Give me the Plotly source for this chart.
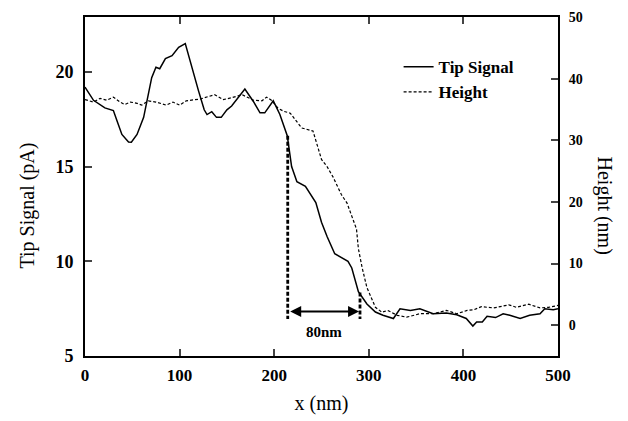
import plotly.graph_objects as go

# ---- data ----
tip_x = [0, 9, 21, 30, 34, 39, 46, 49, 55, 62, 70.5, 75, 79, 85, 92, 99, 106, 113, 120, 126,
         129, 134, 139, 144, 150, 155, 169, 178, 185, 190, 199, 206, 213.8, 218.4, 224, 233, 238,
         244, 250, 256, 264, 278, 282, 289, 298, 307, 315, 326, 333, 344, 354, 368, 382, 393,
         403, 410, 414, 420, 425, 434, 442, 449, 460, 470, 481, 486, 495, 500]
tip_y = [19.2, 18.5, 18.1, 17.96, 17.4, 16.7, 16.3, 16.29, 16.7, 17.6, 19.7, 20.25, 20.17, 20.7,
         20.86, 21.3, 21.5, 20.2, 19.0, 18.0, 17.75, 17.9, 17.6, 17.6, 18.0, 18.2, 19.1, 18.44,
         17.84, 17.84, 18.48, 17.75, 16.63, 15.0, 14.2, 13.96, 13.6, 13.1, 12.06, 11.3, 10.4,
         10.0, 9.65, 8.4, 7.75, 7.32, 7.15, 6.98, 7.49, 7.4, 7.49, 7.23, 7.27, 7.18, 6.98, 6.58,
         6.8, 6.8, 7.1, 7.03, 7.23, 7.15, 6.98, 7.15, 7.23, 7.49, 7.44, 7.49]

h_x = [0, 9, 16, 23, 30, 37, 42, 48, 55, 60, 67, 75, 86, 93, 100, 107, 122, 137, 146, 155,
       166, 178, 187, 192, 197, 204, 210, 217, 229, 241, 250, 256, 262, 271, 277, 284, 287,
       289, 293, 298, 307, 314, 320, 330, 340, 354, 368, 382, 393, 404, 411, 419, 432, 448,
       456, 469, 481, 490, 500]
h_y = [36.6, 36.2, 36.8, 36.5, 37.0, 36.2, 35.8, 36.2, 36.0, 35.7, 36.4, 36.2, 35.7, 36.2,
       35.7, 36.4, 36.7, 37.4, 36.6, 36.9, 37.4, 36.5, 36.4, 37.0, 36.5, 35.2, 34.7, 34.4,
       32.0, 31.5, 26.9, 25.7, 24.1, 21.2, 19.8, 16.7, 15.6, 12.4, 9.3, 6.1, 2.9, 2.1, 2.4,
       1.6, 1.3, 1.86, 1.86, 2.4, 1.86, 2.4, 2.5, 3.0, 2.8, 3.3, 2.9, 3.4, 2.8, 2.9, 3.2]

x_ticks = [0, 100, 200, 300, 400, 500]
y_ticks = [5, 10, 15, 20]
y2_ticks = [0, 10, 20, 30, 40, 50]

# width marker (80 nm)
mark_x = [214.3, 290.7]
mark_top = [16.63, 8.35]
mark_bottom = 6.95
arrow_y = 7.35
mark_label = "80nm"

FONT = "Liberation Serif, Times New Roman, serif"

fig = go.Figure()
fig.add_trace(go.Scatter(x=tip_x, y=tip_y, mode="lines", name="<b>Tip Signal</b>",
                         line=dict(color="black", width=1.5)))
fig.add_trace(go.Scatter(x=h_x, y=h_y, mode="lines", name="<b>Height</b>", yaxis="y2",
                         line=dict(color="black", width=1.2, dash="3px,2px")))

for mx, mt in zip(mark_x, mark_top):
    fig.add_trace(go.Scatter(x=[mx, mx], y=[mt, mark_bottom], mode="lines", showlegend=False,
                             hoverinfo="skip", line=dict(color="black", width=2.8, dash="4px,2px")))

fig.add_annotation(x=mark_x[1] - 1, y=arrow_y, ax=mark_x[0] + 1, ay=arrow_y,
                   xref="x", yref="y", axref="x", ayref="y", text="",
                   showarrow=True, arrowhead=2, arrowside="end+start",
                   arrowsize=1.1, arrowwidth=2, arrowcolor="black")
fig.add_annotation(x=(mark_x[0] + mark_x[1]) / 2, y=arrow_y, xref="x", yref="y",
                   text="<b>" + mark_label + "</b>", showarrow=False, yshift=-21,
                   font=dict(family=FONT, size=15, color="black"))

# left axis title
fig.add_annotation(x=0, y=0.5, xref="paper", yref="paper", text="Tip Signal (pA)",
                   xanchor="center", yanchor="middle", xshift=-58, yshift=-19,
                   showarrow=False, textangle=-90, font=dict(family=FONT, size=20, color="black"))
# right axis title reading top to bottom
fig.add_annotation(x=1, y=0.5, xref="paper", yref="paper", text="Height (nm)",
                   xanchor="center", yanchor="middle", xshift=46, yshift=-19,
                   showarrow=False, textangle=90, font=dict(family=FONT, size=20, color="black"))

fig.update_layout(
    width=628, height=421,
    margin=dict(l=85, r=70, t=10, b=65),
    paper_bgcolor="white", plot_bgcolor="white",
    font=dict(family=FONT, color="black"),
    showlegend=True,
    legend=dict(x=0.663, y=0.905, xanchor="left", yanchor="top", bgcolor="rgba(0,0,0,0)",
                font=dict(family=FONT, size=17, color="black"), tracegroupgap=0),
    xaxis=dict(range=[0, 500], tickvals=x_ticks, ticks="inside", ticklen=7, tickwidth=1.5,
               showline=True, linewidth=2, linecolor="black", mirror="ticks",
               showgrid=False, zeroline=False,
               tickfont=dict(family=FONT, size=17, weight="bold"), ticklabelstandoff=3,
               title=dict(text="x (nm)", font=dict(family=FONT, size=20), standoff=12)),
    yaxis=dict(range=[5, 22.9], tickvals=y_ticks, ticks="inside", ticklen=7, tickwidth=1.5,
               showline=True, linewidth=2, linecolor="black", mirror=False,
               showgrid=False, zeroline=False,
               tickfont=dict(family=FONT, size=18, weight="bold"), ticklabelstandoff=6),
    yaxis2=dict(range=[-5, 50], tickvals=y2_ticks, ticks="inside", ticklen=7, tickwidth=1.5,
                overlaying="y", side="right", anchor="x",
                showline=True, linewidth=2, linecolor="black",
                showgrid=False, zeroline=False,
                tickfont=dict(family=FONT, size=14, weight="bold"), ticklabelstandoff=6),
)

fig.write_html("out.html", config={"displayModeBar": False},
               post_script="document.body.style.margin='0';")
